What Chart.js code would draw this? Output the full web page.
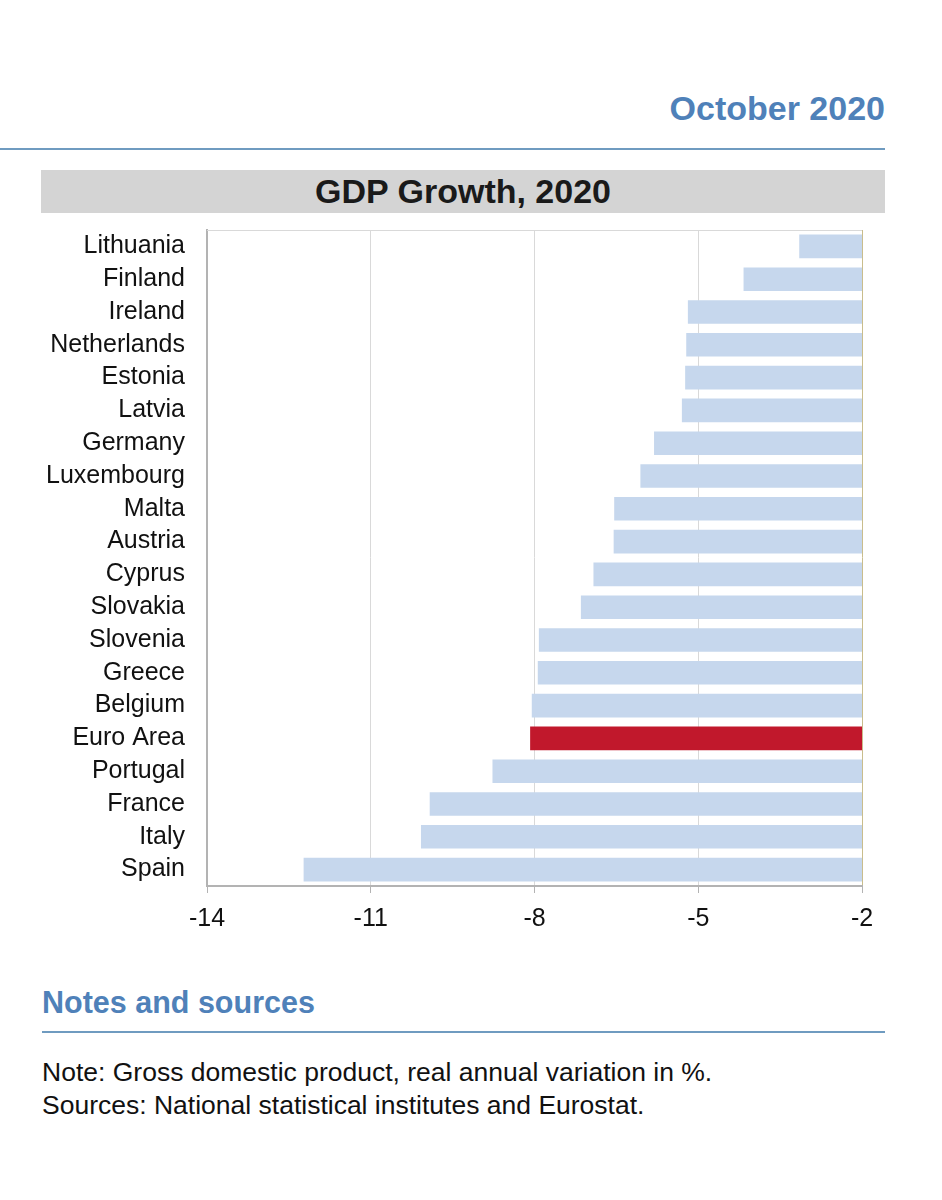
<!DOCTYPE html>
<html>
<head>
<meta charset="utf-8">
<script src="https://cdn.jsdelivr.net/npm/chart.js@4"></script>
<style>
  body { margin: 0; background: #fff; font-family: "Liberation Sans", Arial, sans-serif; }
  #page { position: relative; width: 942px; height: 1200px; }
  .month { position: absolute; right: 57px; top: 89px; font-size: 34px; font-weight: bold; color: #4f81b9; }
  .rule { position: absolute; height: 2px; background: #6f9bc0; }
  .titlebar { position: absolute; left: 41px; top: 170px; width: 844px; height: 43px; background: #d4d4d4;
    text-align: center; font-size: 34px; font-weight: bold; line-height: 43px; color: #1a1a1a; }
  .notes { position: absolute; left: 42px; top: 985px; font-size: 30.5px; font-weight: bold; color: #4f81b9; }
  .note { position: absolute; left: 42px; font-size: 26.5px; color: #111; }
  #wrap { position: absolute; left: 0; top: 220px; width: 942px; height: 740px; }
</style>
</head>
<body>
<div id="page">
  <div class="month">October 2020</div>
  <div class="rule" style="left:0;top:148px;width:885px"></div>
  <div class="titlebar">GDP Growth, 2020</div>
  <div id="wrap"><canvas id="gdpChart"></canvas></div>
  <div class="notes">Notes and sources</div>
  <div class="rule" style="left:42px;top:1031px;width:843px"></div>
  <div class="note" style="top:1057px">Note: Gross domestic product, real annual variation in %.</div>
  <div class="note" style="top:1090px">Sources: National statistical institutes and Eurostat.</div>
</div>
<script>
// countries, top to bottom
const countries = ['Lithuania', 'Finland', 'Ireland', 'Netherlands', 'Estonia', 'Latvia', 'Germany',
  'Luxembourg', 'Malta', 'Austria', 'Cyprus', 'Slovakia', 'Slovenia', 'Greece', 'Belgium',
  'Euro Area', 'Portugal', 'France', 'Italy', 'Spain'];
// GDP growth 2020, %
const growth = [-3.15, -4.17, -5.19, -5.22, -5.24, -5.30, -5.81, -6.06, -6.54, -6.55, -6.92,
  -7.15, -7.92, -7.94, -8.05, -8.08, -8.77, -9.92, -10.08, -12.23];
const xTicks = [-14, -11, -8, -5, -2];
const highlight = 'Euro Area';

const axisMin = xTicks[0];
const axisMax = xTicks[xTicks.length - 1];

// light top border of the plot
const topBorder = {
  id: 'topBorder',
  afterDraw(chart) {
    const {ctx, chartArea} = chart;
    ctx.save();
    ctx.strokeStyle = '#d9d9d9';
    ctx.lineWidth = 1;
    ctx.beginPath();
    ctx.moveTo(chartArea.left, chartArea.top + 0.5);
    ctx.lineTo(chartArea.right, chartArea.top + 0.5);
    ctx.stroke();
    ctx.restore();
  }
};

const labelFont = { family: '"Liberation Sans", Arial, sans-serif', size: 25 };

const ctx = document.getElementById('gdpChart').getContext('2d');
new Chart(ctx, {
  type: 'bar',
  data: {
    labels: countries,
    datasets: [{
      data: growth.map(v => [axisMax, v]),
      backgroundColor: countries.map(c => c === highlight ? '#c1182c' : '#c6d7ed'),
      borderWidth: 0,
      barPercentage: 0.72,
      categoryPercentage: 1
    }]
  },
  options: {
    indexAxis: 'y',
    responsive: true,
    maintainAspectRatio: false,
    animation: false,
    layout: { padding: { top: 10, right: 80, left: 0, bottom: 0 } },
    plugins: { legend: { display: false }, tooltip: { enabled: false } },
    scales: {
      x: {
        min: axisMin,
        max: axisMax,
        afterBuildTicks: (scale) => { scale.ticks = xTicks.map(v => ({value: v})); },
        afterFit: (scale) => { scale.height = 74; },
        grid: {
          color: (c) => c.tick && c.tick.value === axisMax ? '#c9bd8c' : (c.tick && c.tick.value === axisMin ? 'rgba(0,0,0,0)' : '#d9d9d9'),
          lineWidth: 1,
          tickLength: 7,
          tickColor: '#b3b3b3'
        },
        border: { color: '#b3b3b3', width: 2 },
        ticks: {
          color: '#111',
          font: labelFont,
          padding: 11,
          maxRotation: 0
        }
      },
      y: {
        afterFit: (scale) => {
          scale.width = 207;
          scale.paddingTop = 0;
          scale.paddingBottom = 0;
        },
        grid: { display: false, drawTicks: false },
        border: { color: '#b3b3b3', width: 2 },
        ticks: {
          color: '#111',
          font: labelFont,
          padding: 22,
          autoSkip: false
        }
      }
    }
  },
  plugins: [topBorder]
});
</script>
</body>
</html>
